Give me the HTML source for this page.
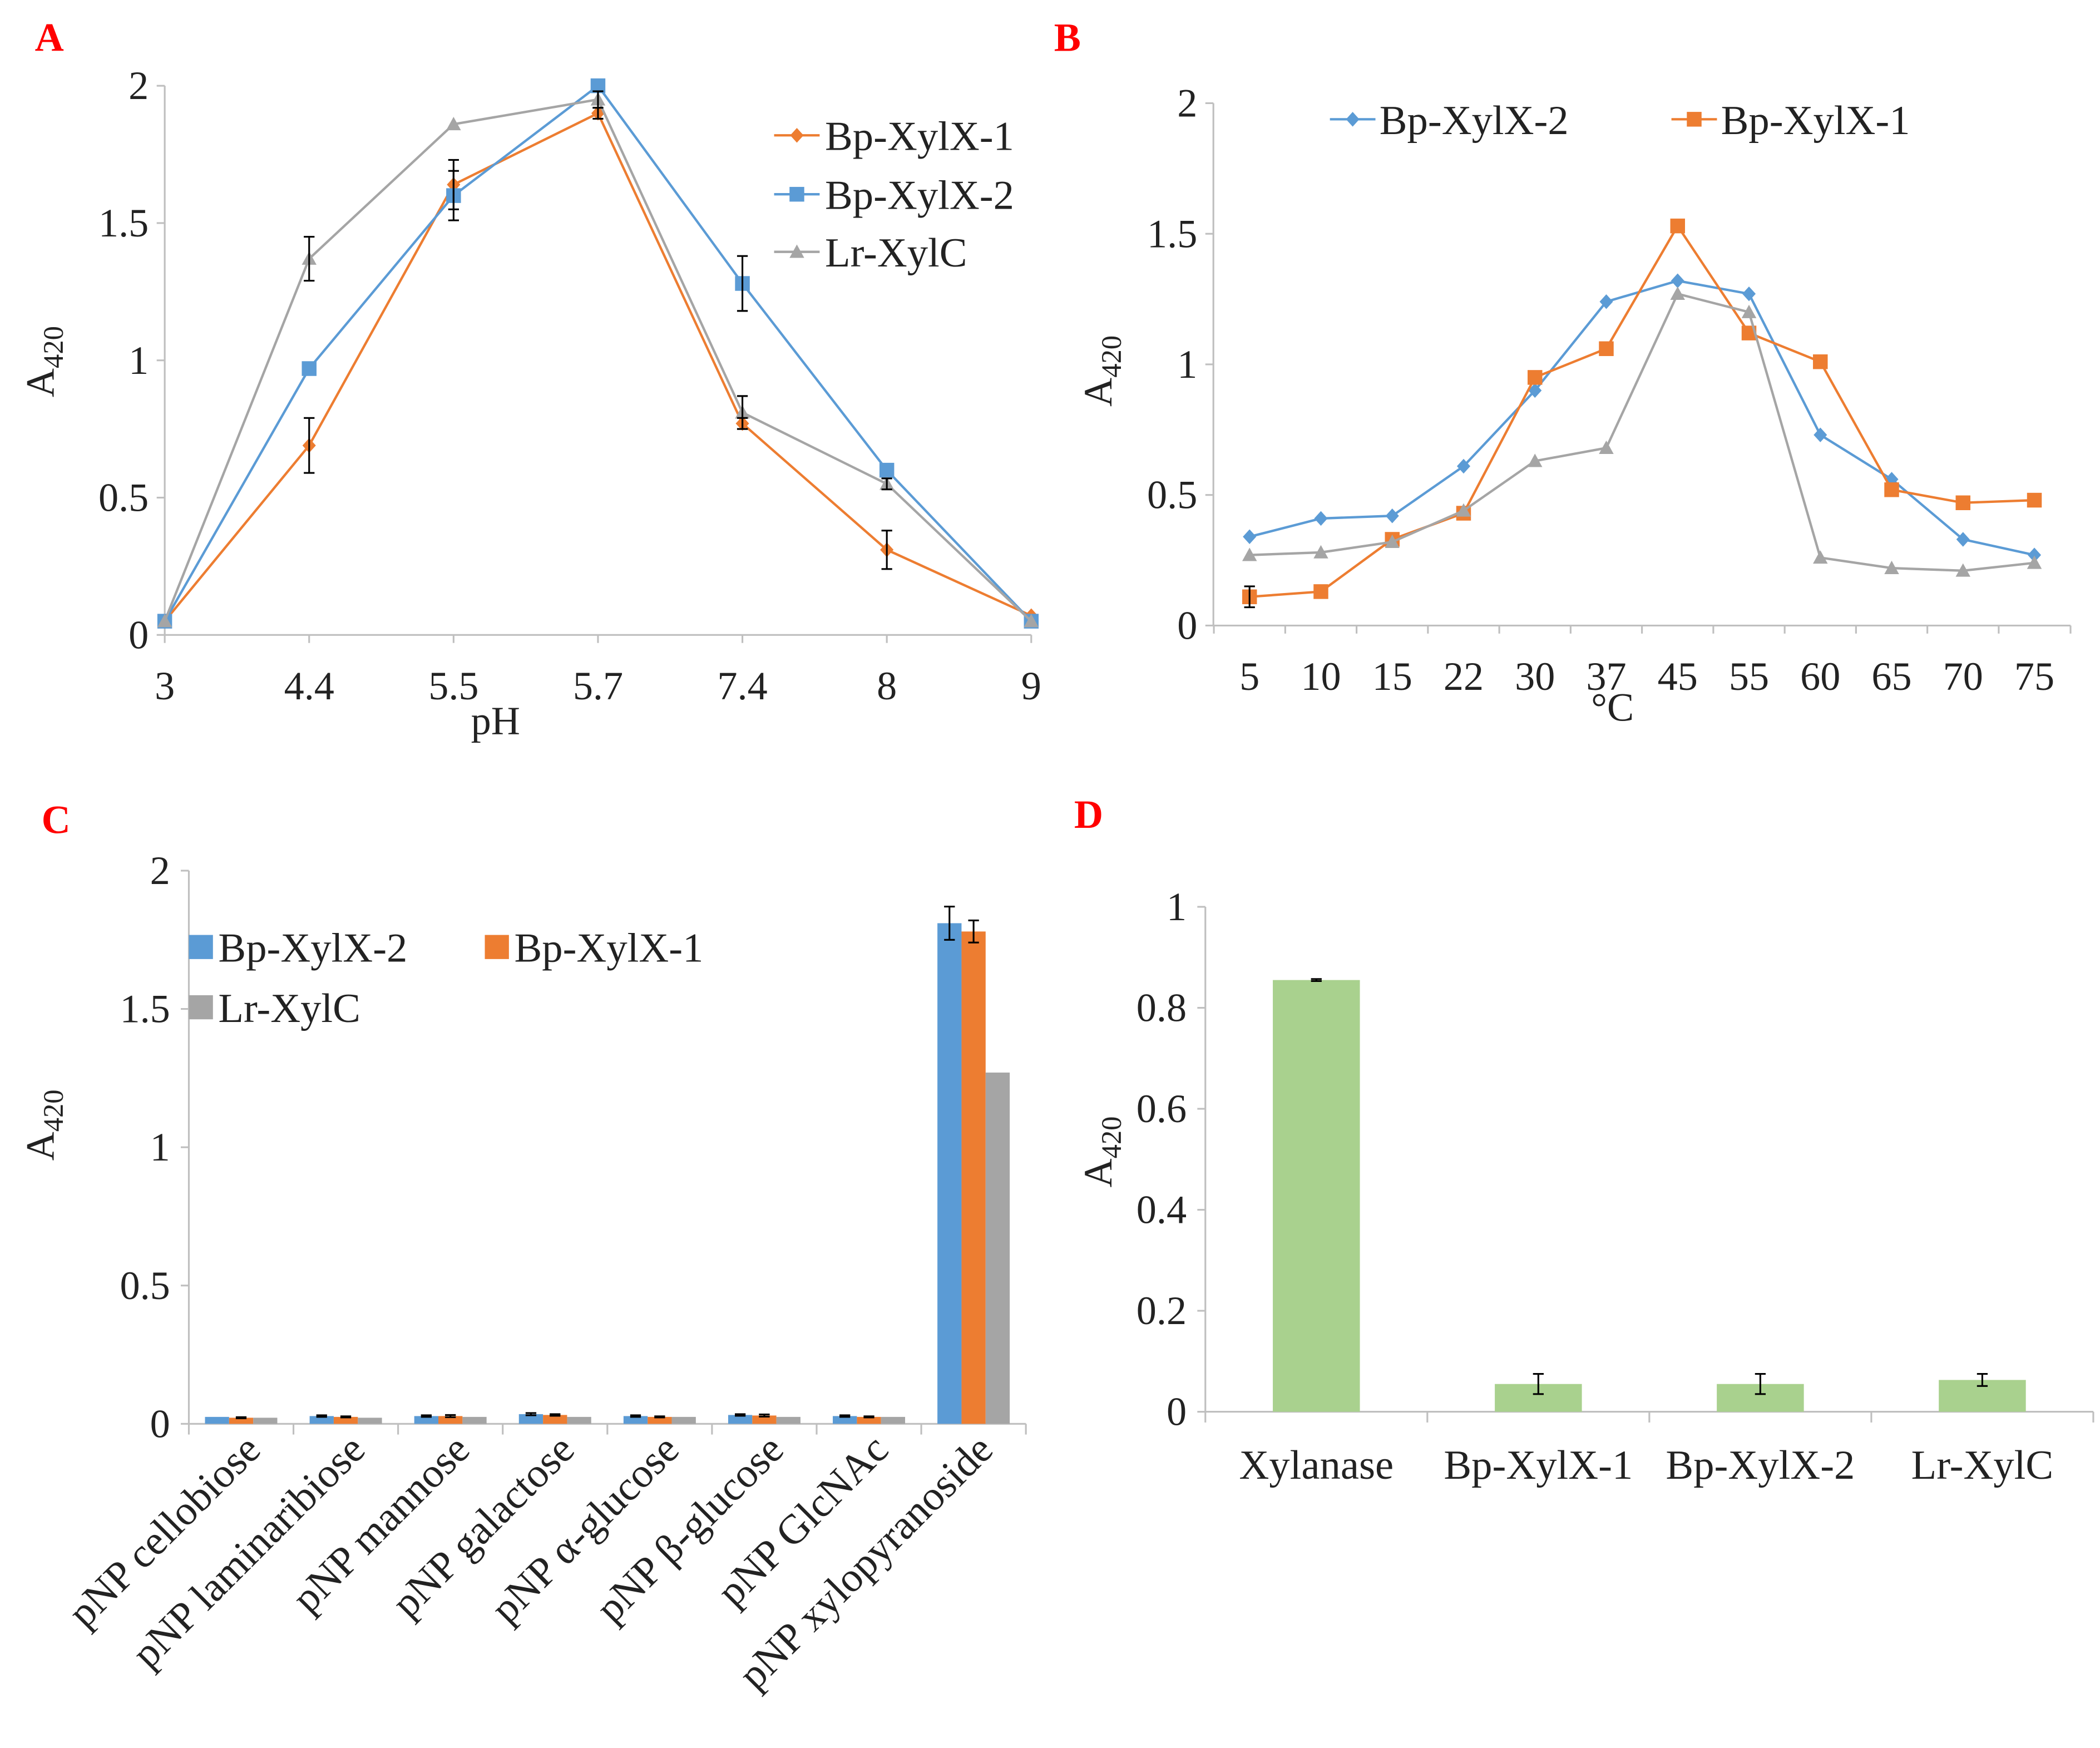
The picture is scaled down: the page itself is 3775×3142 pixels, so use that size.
<!DOCTYPE html>
<html><head><meta charset="utf-8"><style>
html,body{margin:0;padding:0;background:#fff}
svg{display:block}
svg text{font-family:"Liberation Serif","Times New Roman",serif;fill:#222}
</style></head><body>
<svg id="fig" xmlns="http://www.w3.org/2000/svg" width="3775" height="3142" viewBox="0 0 1568 1305" font-family="Liberation Serif, serif">
<rect width="1568" height="1305" fill="#fff"/>
<text x="26" y="38" font-size="30" font-weight="bold" style="fill:#f00">A</text>
<text x="787" y="38" font-size="30" font-weight="bold" style="fill:#f00">B</text>
<text x="31" y="622" font-size="30" font-weight="bold" style="fill:#f00">C</text>
<text x="802" y="618" font-size="30" font-weight="bold" style="fill:#f00">D</text>
<g id="gA"></g>
<g id="gB"></g>
<g id="gC"></g>
<g id="gD"></g>
</svg>
<script>
// Panel A data
const phCats = ["3","4.4","5.5","5.7","7.4","8","9"];
const phX1 = [0.05,0.69,1.64,1.90,0.77,0.31,0.07];
const phX1Err = [0,0.10,0.09,0.02,0.02,0.07,0];
const phX2 = [0.05,0.97,1.60,2.00,1.28,0.60,0.05];
const phX2Err = [0,0,0.09,0,0.10,0,0];
const phLr = [0.05,1.37,1.86,1.95,0.81,0.55,0.05];
const phLrErr = [0,0.08,0,0.03,0.06,0.02,0];
const phTicks = [0,0.5,1,1.5,2];
const phTickLabels = ["0","0.5","1","1.5","2"];
// Panel B data
const tCats = ["5","10","15","22","30","37","45","55","60","65","70","75"];
const tX2 = [0.34,0.41,0.42,0.61,0.90,1.24,1.32,1.27,0.73,0.56,0.33,0.27];
const tX1 = [0.11,0.13,0.33,0.43,0.95,1.06,1.53,1.12,1.01,0.52,0.47,0.48];
const tX1Err = [0.04,0,0,0,0,0,0,0,0,0,0,0];
const tLr = [0.27,0.28,0.32,0.44,0.63,0.68,1.27,1.20,0.26,0.22,0.21,0.24];
const tTicks = [0,0.5,1,1.5,2];
const tTickLabels = ["0","0.5","1","1.5","2"];
// Panel C data
const subCats = ["pNP cellobiose","pNP laminaribiose","pNP mannose","pNP galactose","pNP α-glucose","pNP β-glucose","pNP GlcNAc","pNP xylopyranoside"];
const subX2 = [0.025,0.028,0.028,0.035,0.028,0.032,0.028,1.81];
const subX2Err = [0,0.003,0.003,0.004,0.003,0.003,0.003,0.06];
const subX1 = [0.022,0.025,0.028,0.032,0.025,0.03,0.025,1.78];
const subX1Err = [0.002,0.002,0.004,0.003,0.002,0.004,0.002,0.04];
const subLr = [0.022,0.022,0.025,0.025,0.025,0.025,0.025,1.27];
const subTicks = [0,0.5,1,1.5,2];
const subTickLabels = ["0","0.5","1","1.5","2"];
// Panel D data
const dCats = ["Xylanase","Bp-XylX-1","Bp-XylX-2","Lr-XylC"];
const dVals = [0.855,0.055,0.055,0.063];
const dErr = [0.002,0.02,0.02,0.012];
const dTicks = [0,0.2,0.4,0.6,0.8,1];
const dTickLabels = ["0","0.2","0.4","0.6","0.8","1"];

const NS="http://www.w3.org/2000/svg";
const ORANGE="#ed7d31",BLUE="#5b9bd5",GRAY="#a5a5a5",GREEN="#a9d18e";
const FS=30;
function mk(parent,tag,attrs,txt){const e=document.createElementNS(NS,tag);for(const k in attrs)e.setAttribute(k,attrs[k]);if(txt!==undefined)e.textContent=txt;parent.appendChild(e);return e;}
function marker(g,shape,x,y,color){
  let e;
  if(shape==="diamond") e=mk(g,"polygon",{points:`${x},${y-5.5} ${x+5},${y} ${x},${y+5.5} ${x-5},${y}`,fill:color});
  else if(shape==="square") e=mk(g,"rect",{x:x-5.5,y:y-5.5,width:11,height:11,fill:color});
  else e=mk(g,"polygon",{points:`${x},${y-5.5} ${x+5.5},${y+4.5} ${x-5.5},${y+4.5}`,fill:color});
  
  
  return e;
}
function errBar(g,x,y0,y1,w){
  const e=mk(g,"path",{d:`M${x},${y0}V${y1}M${x-w},${y0}H${x+w}M${x-w},${y1}H${x+w}`,stroke:"#000","stroke-width":1.3,fill:"none"});
  
  
}
function yAxisLabel(g,x,y,size){
  const t=mk(g,"text",{transform:`translate(${x},${y}) rotate(-90)`,"font-size":size,"text-anchor":"middle"});
  
  
  t.appendChild(document.createTextNode("A"));
  mk(t,"tspan",{"font-size":size*0.7,dy:7},"420");
}
function lineChart(g,o){
  const n=o.cats.length;
  const xs=i=>o.x0+(o.x1-o.x0)*i/(n-1);
  const ys=v=>o.y0-(o.y0-o.yTop)*v/o.ymax;
  mk(g,"line",{x1:o.axisX,y1:o.yTop,x2:o.axisX,y2:o.y0,stroke:"#bfbfbf","stroke-width":1.3});
  mk(g,"line",{x1:o.axisX,y1:o.y0,x2:o.axisEnd,y2:o.y0,stroke:"#bfbfbf","stroke-width":1.3});
  o.ticks.forEach((v,i)=>{
    mk(g,"line",{x1:o.axisX-6,y1:ys(v),x2:o.axisX,y2:ys(v),stroke:"#bfbfbf","stroke-width":1.3});
    const t=mk(g,"text",{x:o.axisX-12,y:ys(v)+10,"font-size":FS,"text-anchor":"end"},o.tickLabels[i]);
    
    
  });
  o.cats.forEach((c,i)=>{
    const tx=o.tickBetween?xs(i)-(o.x1-o.x0)/(n-1)/2:xs(i);
    mk(g,"line",{x1:tx,y1:o.y0,x2:tx,y2:o.y0+6,stroke:"#bfbfbf","stroke-width":1.3});
    const t=mk(g,"text",{x:xs(i),y:o.y0+48,"font-size":FS,"text-anchor":"middle"},c);
    
    
  });
  if(o.tickBetween){mk(g,"line",{x1:o.axisEnd,y1:o.y0,x2:o.axisEnd,y2:o.y0+6,stroke:"#bfbfbf","stroke-width":1.3});}
  o.series.forEach(s=>{
    const sg=mk(g,"g",{});
    
    
    const pts=s.vals.map((v,i)=>`${xs(i)},${ys(v)}`).join(" ");
    mk(sg,"polyline",{points:pts,fill:"none",stroke:s.color,"stroke-width":1.8});
    s.vals.forEach((v,i)=>marker(sg,s.shape,xs(i),ys(v),s.color));
  });
  o.series.forEach(s=>{ if(s.err) s.vals.forEach((v,i)=>{ if(s.err[i]>0) errBar(g,xs(i),ys(v-s.err[i]),ys(v+s.err[i]),4); }); });
}
function barAxes(g,o,ys){
  mk(g,"line",{x1:o.axisX,y1:o.yTop,x2:o.axisX,y2:o.y0,stroke:"#bfbfbf","stroke-width":1.3});
  mk(g,"line",{x1:o.axisX,y1:o.y0,x2:o.axisEnd,y2:o.y0,stroke:"#bfbfbf","stroke-width":1.3});
  o.ticks.forEach((v,i)=>{
    mk(g,"line",{x1:o.axisX-6,y1:ys(v),x2:o.axisX,y2:ys(v),stroke:"#bfbfbf","stroke-width":1.3});
    const t=mk(g,"text",{x:o.axisX-14,y:ys(v)+10,"font-size":FS,"text-anchor":"end"},o.tickLabels[i]);
    
    
  });
  const n=o.cats.length,cw=(o.axisEnd-o.axisX)/n;
  for(let i=0;i<=n;i++) mk(g,"line",{x1:o.axisX+cw*i,y1:o.y0,x2:o.axisX+cw*i,y2:o.y0+8,stroke:"#bfbfbf","stroke-width":1.3});
  return cw;
}

// Panel A
const gA=document.getElementById("gA");
lineChart(gA,{cats:phCats,x0:123,x1:770,axisX:123,axisEnd:770,y0:474,yTop:64,ymax:2,ticks:phTicks,tickLabels:phTickLabels,
 series:[{name:"Bp-XylX-1",vals:phX1,err:phX1Err,color:ORANGE,shape:"diamond"},
         {name:"Bp-XylX-2",vals:phX2,err:phX2Err,color:BLUE,shape:"square"},
         {name:"Lr-XylC",vals:phLr,err:phLrErr,color:GRAY,shape:"triangle"}]});
yAxisLabel(gA,40,270,FS);
(function(){const t=mk(gA,"text",{x:370,y:548,"font-size":FS,"text-anchor":"middle"},"pH");})();
[["Bp-XylX-1",ORANGE,"diamond",101],["Bp-XylX-2",BLUE,"square",145],["Lr-XylC",GRAY,"triangle",188]].forEach(l=>{
  const lg=mk(gA,"g",{});
  
  
  mk(lg,"line",{x1:578,y1:l[3],x2:612,y2:l[3],stroke:l[1],"stroke-width":1.8});
  marker(lg,l[2],595,l[3],l[1]);
  mk(lg,"text",{x:616,y:l[3]+11,"font-size":31},l[0]);
});

// Panel B
const gB=document.getElementById("gB");
lineChart(gB,{cats:tCats,x0:933,x1:1519,axisX:906,axisEnd:1546,y0:467,yTop:77,ymax:2,ticks:tTicks,tickLabels:tTickLabels,tickBetween:true,
 series:[{name:"Bp-XylX-2",vals:tX2,color:BLUE,shape:"diamond"},
         {name:"Bp-XylX-1",vals:tX1,err:tX1Err,color:ORANGE,shape:"square"},
         {name:"Lr-XylC",vals:tLr,color:GRAY,shape:"triangle"}]});
yAxisLabel(gB,830,277,FS);
(function(){const t=mk(gB,"text",{x:1204,y:538,"font-size":FS,"text-anchor":"middle"},"°C");})();
[["Bp-XylX-2",BLUE,"diamond",993],["Bp-XylX-1",ORANGE,"square",1248]].forEach(l=>{
  const lg=mk(gB,"g",{});
  
  
  mk(lg,"line",{x1:l[3],y1:89,x2:l[3]+34,y2:89,stroke:l[1],"stroke-width":1.8});
  marker(lg,l[2],l[3]+17,89,l[1]);
  mk(lg,"text",{x:l[3]+37,y:100,"font-size":31},l[0]);
});

// Panel C
const gC=document.getElementById("gC");
(function(){
  const o={cats:subCats,axisX:141,axisEnd:766,y0:1063,yTop:650,ymax:2,ticks:subTicks,tickLabels:subTickLabels};
  const ys=v=>o.y0-(o.y0-o.yTop)*v/o.ymax;
  const cw=barAxes(gC,o,ys);
  const bw=18;
  const ser=[[subX2,subX2Err,BLUE,"bp-xylx-2"],[subX1,subX1Err,ORANGE,"bp-xylx-1"],[subLr,null,GRAY,"lr-xylc"]];
  subCats.forEach((c,i)=>{
    const cx=o.axisX+cw*(i+0.5);
    ser.forEach((s,j)=>{
      const x=cx+(j-1.5)*bw;
      const r=mk(gC,"rect",{x:x,y:ys(s[0][i]),width:bw,height:o.y0-ys(s[0][i]),fill:s[2]});
      
      
    });
    ser.forEach((s,j)=>{ if(s[1]&&s[1][i]>0){const x=cx+(j-1)*bw; errBar(gC,x,ys(s[0][i]-s[1][i]),ys(s[0][i]+s[1][i]),4);} });
    const t=mk(gC,"text",{transform:`translate(${cx+16},${1084}) rotate(-45)`,"font-size":31,"text-anchor":"end"},c);
    
    
  });
  yAxisLabel(gC,40,840,FS);
  [["Bp-XylX-2",BLUE,141,707],["Bp-XylX-1",ORANGE,362,707],["Lr-XylC",GRAY,141,752]].forEach(l=>{
    const lg=mk(gC,"g",{});
    
    
    mk(lg,"rect",{x:l[2],y:l[3]-9,width:18,height:18,fill:l[1]});
    mk(lg,"text",{x:l[2]+22,y:l[3]+11,"font-size":31},l[0]);
  });
})();

// Panel D
const gD=document.getElementById("gD");
(function(){
  const o={cats:dCats,axisX:900,axisEnd:1563,y0:1054,yTop:677,ymax:1,ticks:dTicks,tickLabels:dTickLabels};
  const ys=v=>o.y0-(o.y0-o.yTop)*v/o.ymax;
  const cw=barAxes(gD,o,ys);
  const bw=65;
  dCats.forEach((c,i)=>{
    const cx=o.axisX+cw*(i+0.5);
    const r=mk(gD,"rect",{x:cx-bw/2,y:ys(dVals[i]),width:bw,height:o.y0-ys(dVals[i]),fill:GREEN});
    
    
    errBar(gD,cx,ys(dVals[i]-dErr[i]),ys(dVals[i]+dErr[i]),4);
    const t=mk(gD,"text",{x:cx,y:1104,"font-size":31,"text-anchor":"middle"},c);
    
    
  });
  yAxisLabel(gD,830,860,FS);
})();
</script>
</body></html>
